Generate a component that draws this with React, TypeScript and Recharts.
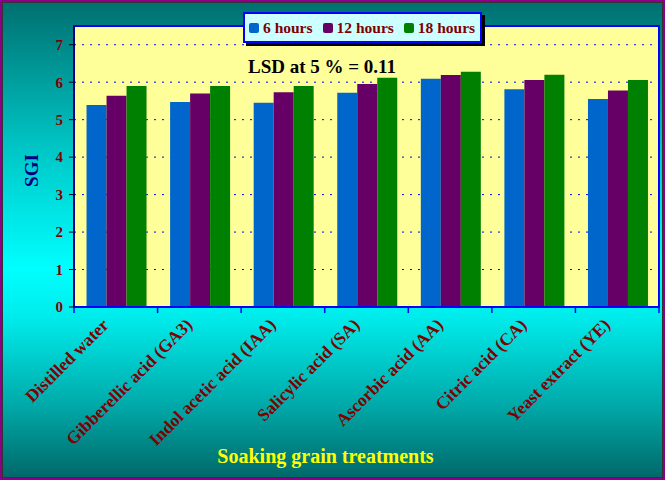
import React from 'react';
import { BarChart, Bar, XAxis, YAxis, CartesianGrid, Legend, ReferenceArea } from 'recharts';

const treatments = [
  'Distilled water',
  'Gibberellic acid (GA3)',
  'Indol acetic acid (IAA)',
  'Salicylic acid (SA)',
  'Ascorbic acid (AA)',
  'Citric acid (CA)',
  'Yeast extract (YE)',
];
const sixHours = [5.39, 5.47, 5.45, 5.72, 6.09, 5.81, 5.55];
const twelveHours = [5.64, 5.7, 5.73, 5.95, 6.19, 6.06, 5.78];
const eighteenHours = [5.9, 5.9, 5.9, 6.12, 6.28, 6.2, 6.06];
const yTicks = [0, 1, 2, 3, 4, 5, 6, 7];

const series = [
  { key: 'h6', name: '6 hours', color: '#0066cc' },
  { key: 'h12', name: '12 hours', color: '#660066' },
  { key: 'h18', name: '18 hours', color: '#008000' },
];

const data = treatments.map((name, i) => ({
  name,
  h6: sixHours[i],
  h12: twelveHours[i],
  h18: eighteenHours[i],
}));

const serif = '"Liberation Serif", "Times New Roman", serif';

// label plus the tick marks, which sit on the category boundaries
const CategoryTick = (props: any) => {
  const { x, y, payload, index } = props;
  const half = payload && payload.offset ? payload.offset : 41.8;
  const isLast = index === treatments.length - 1;
  return (
    <g>
      <line x1={x - half} x2={x - half} y1={y - 8} y2={y - 2} stroke="#0000ff" strokeWidth={1.5} />
      {isLast && <line x1={x + half} x2={x + half} y1={y - 8} y2={y - 2} stroke="#0000ff" strokeWidth={1.5} />}
      <text
        transform={`translate(${x - 6}, ${y + 11}) rotate(-45)`}
        textAnchor="end"
        fill="#800000"
        fontFamily={serif}
        fontWeight="bold"
        fontSize={17.5}
      >
        {payload.value}
      </text>
    </g>
  );
};

const LegendBox = () => (
  <div
    style={{
      display: 'flex',
      alignItems: 'center',
      gap: 10,
      background: '#ccffff',
      border: '2px solid #0000ff',
      boxShadow: '3px 3px 0 #000',
      padding: '4px 5px 4px 4px',
      fontFamily: serif,
      fontWeight: 'bold',
      fontSize: 15.5,
      lineHeight: '19px',
      color: '#800000',
      whiteSpace: 'nowrap',
    }}
  >
    {series.map((s) => (
      <span key={s.key} style={{ display: 'flex', alignItems: 'center', gap: 4 }}>
        <span style={{ width: 10, height: 10, background: s.color, borderRadius: 2, display: 'inline-block' }} />
        {s.name}
      </span>
    ))}
  </div>
);

const SgiLabel = (props: any) => {
  const { viewBox } = props;
  const cx = viewBox.x + 31;
  const cy = viewBox.y + viewBox.height / 2 + 4;
  return (
    <text
      transform={`translate(${cx}, ${cy}) rotate(-90)`}
      textAnchor="middle"
      dominantBaseline="central"
      fill="#000080"
      fontFamily={serif}
      fontWeight="bold"
      fontSize={19}
    >
      SGI
    </text>
  );
};

export default function App() {
  return (
    <div
      style={{
        position: 'absolute',
        left: 0,
        top: 0,
        width: 665,
        height: 480,
        boxSizing: 'border-box',
        border: '2px solid #8b008b',
        boxShadow: 'inset 0 0 0 1px #333',
        background: 'linear-gradient(to bottom, #006f6f 0%, #00c4c4 30%, #00ffff 56%, #00ecec 66%, #00a8a8 85%, #006868 100%)',
        overflow: 'hidden',
      }}
    >
      <div style={{ position: 'absolute', left: -2, top: -2 }}>
        <BarChart
          width={665}
          height={480}
          data={data}
          margin={{ top: 26, right: 6, left: 0, bottom: 0 }}
          barCategoryGap="15%"
          barGap={0}
        >
          <CartesianGrid vertical={false} fill="#ffff99" stroke="#0000ff" strokeDasharray="2 6" />
          <XAxis
            dataKey="name"
            interval={0}
            height={173}
            tickSize={6}
            tickMargin={2}
            tickLine={false}
            axisLine={{ stroke: '#0000ff', strokeWidth: 2 }}
            tick={<CategoryTick />}
            label={{
              value: 'Soaking grain treatments',
              position: 'insideBottom',
              offset: 17,
              dx: -41,
              fill: '#ffff00',
              fontFamily: serif,
              fontWeight: 'bold',
              fontSize: 20,
            }}
          />
          <YAxis
            width={74}
            domain={[0, 7.5]}
            ticks={yTicks}
            tickSize={5}
            tickMargin={6}
            tickLine={{ stroke: '#000' }}
            axisLine={{ stroke: '#000080', strokeWidth: 2 }}
            tick={{ fill: '#800000', fontFamily: serif, fontWeight: 'bold', fontSize: 15 }}
            label={<SgiLabel />}
          />
          <ReferenceArea y1={0} y2={7.5} fill="none" stroke="#0000ff" strokeWidth={2} />
          <Legend
            verticalAlign="middle"
            layout="horizontal"
            content={<LegendBox />}
            wrapperStyle={{ top: 12, left: 243, width: 'auto' }}
          />
          {series.map((s) => (
            <Bar key={s.key} dataKey={s.key} name={s.name} fill={s.color} isAnimationActive={false} />
          ))}
        </BarChart>
      </div>
      <div
        style={{
          position: 'absolute',
          left: 246,
          top: 54,
          fontFamily: serif,
          fontWeight: 'bold',
          fontSize: 19,
          color: '#000',
          whiteSpace: 'nowrap',
        }}
      >
        LSD at 5 % = 0.11
      </div>
    </div>
  );
}
